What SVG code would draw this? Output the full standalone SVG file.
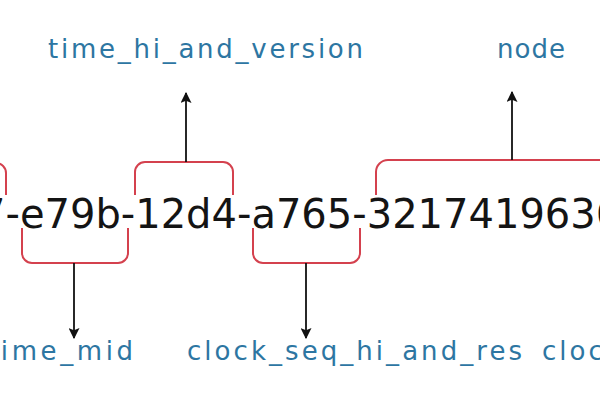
<svg xmlns="http://www.w3.org/2000/svg" width="600" height="400" viewBox="0 0 600 400">
<style>
.uuid{font-family:"DejaVu Sans","Liberation Sans",sans-serif;font-size:40px;fill:#141414}
.lbl{font-family:"DejaVu Sans","Liberation Sans",sans-serif;font-size:26px;fill:#2d76a2}
.br{fill:none;stroke:#d4414e;stroke-width:2}
.ar{fill:none;stroke:#111;stroke-width:1.8}
</style>
<defs>
<marker id="ah" viewBox="0 0 10 10" refX="9" refY="5" markerWidth="11" markerHeight="11" markerUnits="userSpaceOnUse" orient="auto">
<path d="M0,0 L10,5 L0,10 L2,5 Z" fill="#111"/>
</marker>
</defs>
<rect width="600" height="400" fill="#fff"/>
<g id="uuid">
<text class="uuid" x="-20" y="228">7-e79b-12d4-a765-3217419636</text>
</g>
<g id="connectors">
<path class="br" d="M-20 163 H-4 A10 10 0 0 1 6 173 V195"/>
<path class="br" d="M135 195 V172 A10 10 0 0 1 145 162 H223 A10 10 0 0 1 233 172 V195"/>
<path class="br" d="M376 195 V172 A12 12 0 0 1 388 160 H610"/>
<path class="br" d="M22 228 V253 A10 10 0 0 0 32 263 H118 A10 10 0 0 0 128 253 V228"/>
<path class="br" d="M253 228 V253 A10 10 0 0 0 263 263 H350 A10 10 0 0 0 360 253 V228"/>
<line class="ar" x1="186" y1="162" x2="186" y2="93" marker-end="url(#ah)"/>
<line class="ar" x1="512" y1="160" x2="512" y2="92" marker-end="url(#ah)"/>
<line class="ar" x1="74" y1="263" x2="74" y2="338" marker-end="url(#ah)"/>
<line class="ar" x1="306" y1="263" x2="306" y2="338" marker-end="url(#ah)"/>
</g>
<g id="time_hi_and_version"><text class="lbl" x="48" y="58" textLength="315" lengthAdjust="spacing">time_hi_and_version</text></g>
<g id="node"><text class="lbl" x="497" y="58" textLength="68" lengthAdjust="spacing">node</text></g>
<g id="time_mid"><text class="lbl" x="-13" y="360" textLength="146" lengthAdjust="spacing">time_mid</text></g>
<g id="clock_seq_hi_and_res"><text class="lbl" x="187" y="360" textLength="335" lengthAdjust="spacing">clock_seq_hi_and_res</text></g>
<g id="clock_seq_low"><text class="lbl" x="542" y="360" letter-spacing="3">clock_seq_low</text></g>
</svg>
